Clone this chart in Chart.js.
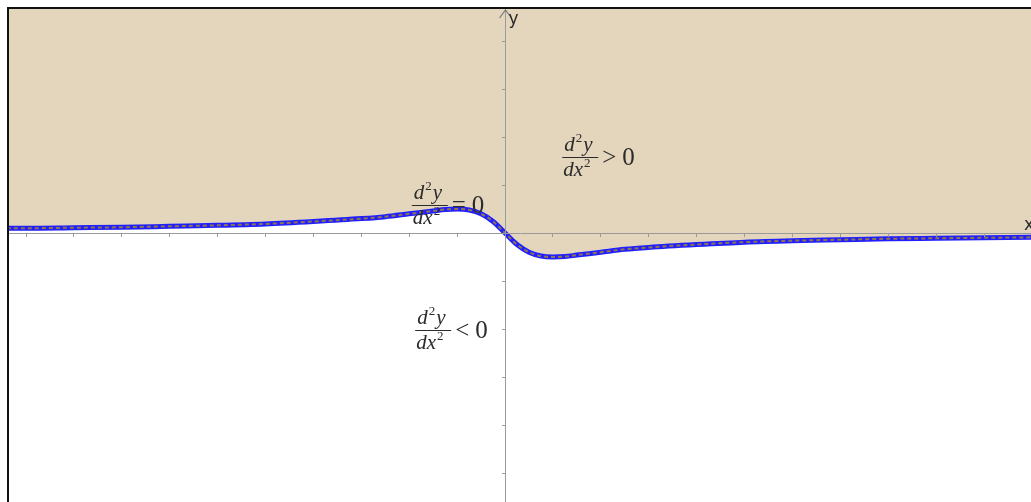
<!DOCTYPE html>
<html>
<head>
<meta charset="utf-8">
<title>Concavity of the curve</title>
<script src="https://cdn.jsdelivr.net/npm/chart.js@4/dist/chart.umd.min.js"></script>
<style>
  html, body { margin: 0; padding: 0; background: #fff; }
  #plot { display: block; }
</style>
</head>
<body>
<canvas id="plot" width="1031" height="502"></canvas>
<script>
// curve samples (x, y)
const curveX = [-10.4, -10, -9, -8, -7, -6, -5, -4, -3, -2.5, -2, -1.5, -1.25, -1, -0.75, -0.5, -0.25,
  0, 0.25, 0.5, 0.75, 1, 1.25, 1.5, 2, 2.5, 3, 4, 5, 6, 7, 8, 9, 10, 11];
const curveY = [0.10, 0.10, 0.11, 0.12, 0.14, 0.16, 0.19, 0.24, 0.30, 0.34, 0.40, 0.46, 0.49, 0.50, 0.48, 0.40, 0.24,
  0, -0.24, -0.40, -0.48, -0.50, -0.49, -0.46, -0.40, -0.34, -0.30, -0.24, -0.19, -0.16, -0.14, -0.12, -0.11, -0.10, -0.09];

// tick marks along both axes
const xTicks = [-10, -9, -8, -7, -6, -5, -4, -3, -2, -1, 1, 2, 3, 4, 5, 6, 7, 8, 9, 10];
const yTicks = [-5, -4, -3, -2, -1, 1, 2, 3, 4];

// region labels: [relation, x, y]
const regionLabels = [
  [">", 1.57, 1.58],
  ["=", -1.57, 0.58],
  ["<", -1.5, -2.02],
];

const points = curveX.map((x, i) => ({ x: x, y: curveY[i] }));

const FILL = "#e4d6bd";
const AXIS = "#9a9a9a";
const INK = "#2b2b2b";

function drawFraction(ctx, cx, cy, rel) {
  // numerator d²y over dx², then the relation and 0
  const serif = '"Liberation Serif", "DejaVu Serif", serif';
  const big = "italic 21px " + serif;
  const sup = "13px " + serif;
  ctx.save();
  ctx.fillStyle = INK;
  ctx.strokeStyle = INK;
  ctx.textBaseline = "alphabetic";
  ctx.textAlign = "left";

  const barW = 36;
  const left = cx - barW / 2;

  // numerator
  let x = left + 2;
  ctx.font = big;
  ctx.fillText("d", x, cy - 6);
  x += ctx.measureText("d").width + 1;
  ctx.font = sup;
  ctx.fillText("2", x, cy - 15);
  x += ctx.measureText("2").width + 1;
  ctx.font = big;
  ctx.fillText("y", x, cy - 6);

  // bar
  ctx.lineWidth = 1.2;
  ctx.beginPath();
  ctx.moveTo(left, cy + 0.5);
  ctx.lineTo(left + barW, cy + 0.5);
  ctx.stroke();

  // denominator
  x = left + 1;
  ctx.font = big;
  ctx.fillText("dx", x, cy + 19);
  x += ctx.measureText("dx").width + 1;
  ctx.font = sup;
  ctx.fillText("2", x, cy + 10);

  // relation and zero
  ctx.font = "25px " + serif;
  ctx.fillText(rel, left + barW + 4, cy + 8);
  ctx.fillText("0", left + barW + 24, cy + 8);
  ctx.restore();
}

const decorations = {
  id: "decorations",
  beforeDraw(chart) {
    const ctx = chart.ctx;
    ctx.save();
    ctx.fillStyle = "#fff";
    ctx.fillRect(0, 0, chart.width, chart.height);
    ctx.restore();
  },
  afterDraw(chart) {
    const ctx = chart.ctx;
    const sx = chart.scales.x;
    const sy = chart.scales.y;
    const ox = Math.round(sx.getPixelForValue(0)) + 0.5;
    const top = chart.chartArea.top;

    // arrow head on the y axis
    ctx.save();
    ctx.strokeStyle = "#777";
    ctx.lineWidth = 1.2;
    ctx.beginPath();
    ctx.moveTo(ox - 6, top + 9);
    ctx.lineTo(ox, top + 1);
    ctx.lineTo(ox + 6, top + 9);
    ctx.stroke();

    // axis names
    ctx.fillStyle = INK;
    ctx.font = '17px "DejaVu Sans", sans-serif';
    ctx.textBaseline = "alphabetic";
    ctx.textAlign = "left";
    ctx.fillText("y", ox + 3, top + 15);
    ctx.fillText("x", chart.chartArea.right - 7, sy.getPixelForValue(0) - 3);
    ctx.restore();

    regionLabels.forEach(([rel, vx, vy]) => {
      drawFraction(ctx, sx.getPixelForValue(vx), Math.round(sy.getPixelForValue(vy)), rel);
    });

    // frame
    ctx.save();
    ctx.strokeStyle = "#111";
    ctx.lineWidth = 2;
    ctx.beginPath();
    ctx.moveTo(8, chart.height);
    ctx.lineTo(8, 8);
    ctx.lineTo(chart.width, 8);
    ctx.stroke();
    ctx.restore();
  },
};

function axisOptions(min, max, ticks, pos) {
  return {
    type: "linear",
    min: min,
    max: max,
    position: pos,
    afterBuildTicks: (scale) => {
      scale.ticks = ticks.map((v) => ({ value: v }));
    },
    ticks: { display: false, z: 1 },
    grid: { drawOnChartArea: false, drawTicks: true, tickLength: 3, color: AXIS, z: 1 },
    border: { display: true, color: AXIS, width: 1, z: 1 },
  };
}

new Chart(document.getElementById("plot"), {
  type: "line",
  data: {
    datasets: [
      {
        data: points,
        borderColor: "#8f7650",
        borderWidth: 2,
        borderDash: [4, 3],
        fill: false,
        pointRadius: 0,
        cubicInterpolationMode: "monotone",
        order: 0,
      },
      {
        data: points,
        borderColor: "#1f1fff",
        borderWidth: 5,
        backgroundColor: FILL,
        fill: "end",
        pointRadius: 0,
        cubicInterpolationMode: "monotone",
        order: 1,
      },
    ],
  },
  options: {
    responsive: false,
    animation: false,
    layout: { padding: { left: 9, top: 9, right: 0, bottom: 0 } },
    plugins: { legend: { display: false }, tooltip: { enabled: false } },
    scales: {
      x: axisOptions(-10.355, 10.98, xTicks, { y: 0 }),
      y: axisOptions(-5.604, 4.667, yTicks, { x: 0 }),
    },
  },
  plugins: [decorations],
});
</script>
</body>
</html>
